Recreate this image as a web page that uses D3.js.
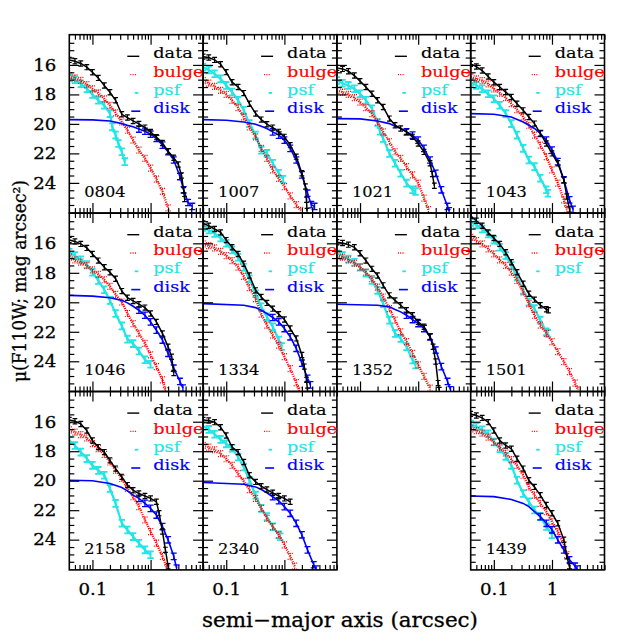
<!DOCTYPE html>
<html><head><meta charset="utf-8">
<script src="https://cdn.jsdelivr.net/npm/d3@7/dist/d3.min.js"></script>
<style>body{margin:0;background:#fff}text{font-family:"DejaVu Serif",serif}</style>
</head><body>
<svg id="chart" width="638" height="638"></svg>
<script>
// ---------------- data (semi-major axis in arcsec, surface brightness in mag/arcsec^2) ----------------
const panelIds = ["0804","1007","1021","1043","1046","1334","1352","1501","2158","2340","1439"];

const dataProfiles = [
 [[0.04,15.66],[0.05,15.75],[0.063,15.9],[0.08,16.15],[0.1,16.5],[0.126,16.88],[0.16,17.4],[0.2,17.85],[0.25,18.4],[0.32,19.35],[0.4,19.57],[0.5,19.8],[0.63,20.0],[0.8,20.25],[1.0,20.55],[1.26,20.9],[1.6,21.3],[2.0,21.85],[2.5,22.3],[3.0,22.75],[3.4,23.5],[3.7,24.5],[3.85,25.1]],
 [[0.04,15.44],[0.05,15.5],[0.063,15.66],[0.08,15.95],[0.1,16.49],[0.126,17.17],[0.16,17.5],[0.2,17.91],[0.25,18.63],[0.32,19.3],[0.4,19.71],[0.5,20.02],[0.63,20.25],[0.8,20.54],[1.0,20.88],[1.26,21.44],[1.6,22.22],[2.0,23.35],[2.3,24.25],[2.4,25.15],[2.45,25.9]],
 [[0.04,16.2],[0.05,16.27],[0.063,16.43],[0.08,16.72],[0.1,17.1],[0.126,17.5],[0.16,17.96],[0.2,18.4],[0.25,18.85],[0.32,19.64],[0.4,20.09],[0.5,20.31],[0.63,20.54],[0.8,20.88],[1.0,21.33],[1.26,21.9],[1.6,22.67],[1.75,23.4],[1.9,24.2]],
 [[0.04,15.93],[0.05,16.11],[0.063,16.38],[0.08,16.79],[0.1,17.17],[0.126,17.5],[0.16,17.84],[0.2,18.18],[0.25,18.63],[0.32,19.08],[0.4,19.53],[0.5,19.98],[0.63,20.65],[0.8,21.33],[1.0,22.0],[1.26,22.67],[1.6,23.8],[1.8,24.92],[2.0,25.8]],
 [[0.04,15.78],[0.05,15.87],[0.063,16.04],[0.08,16.31],[0.1,16.72],[0.126,17.17],[0.16,17.62],[0.2,17.96],[0.25,18.4],[0.32,19.24],[0.4,19.69],[0.5,19.91],[0.63,20.13],[0.8,20.36],[1.0,20.76],[1.26,21.33],[1.6,22.11],[2.0,23.01],[2.3,23.69],[2.5,24.8]],
 [[0.04,14.65],[0.05,14.81],[0.063,15.03],[0.08,15.26],[0.1,15.78],[0.126,16.27],[0.16,16.72],[0.2,17.39],[0.25,18.18],[0.32,19.19],[0.4,19.64],[0.5,20.04],[0.63,20.43],[0.8,20.81],[1.0,21.17],[1.26,21.78],[1.6,22.45],[2.0,23.57],[2.2,24.36],[2.4,25.26],[2.5,26.0]],
 [[0.04,15.93],[0.05,15.98],[0.063,16.09],[0.08,16.27],[0.1,16.67],[0.126,17.17],[0.16,17.73],[0.2,18.18],[0.25,18.85],[0.32,19.53],[0.4,19.87],[0.5,20.2],[0.63,20.54],[0.8,20.88],[1.0,21.33],[1.26,21.66],[1.6,22.34],[1.8,23.01],[2.0,24.02],[2.2,25.48],[2.3,25.95]],
 [[0.04,14.13],[0.05,14.47],[0.063,14.81],[0.08,15.26],[0.1,15.64],[0.126,16.04],[0.16,16.61],[0.2,17.28],[0.25,17.96],[0.32,18.74],[0.4,19.42],[0.5,19.82],[0.63,20.2],[0.8,20.47],[0.87,20.54]],
 [[0.04,15.88],[0.05,15.97],[0.063,16.15],[0.08,16.6],[0.1,17.27],[0.126,17.72],[0.16,18.06],[0.2,18.62],[0.25,19.18],[0.32,19.74],[0.4,20.3],[0.5,20.64],[0.63,20.87],[0.8,21.04],[1.0,21.2],[1.26,21.43],[1.4,22.2],[1.6,23.45],[1.8,24.69],[2.0,25.8]],
 [[0.04,15.88],[0.05,15.92],[0.063,16.03],[0.08,16.37],[0.1,16.93],[0.126,17.72],[0.16,18.06],[0.2,18.73],[0.25,19.63],[0.32,20.08],[0.4,20.37],[0.5,20.6],[0.63,20.82],[0.8,21.04],[1.0,21.2],[1.26,21.43]],
 [[0.04,15.47],[0.05,15.58],[0.063,15.74],[0.08,16.03],[0.1,16.6],[0.126,17.27],[0.16,17.61],[0.2,17.83],[0.25,18.51],[0.32,19.18],[0.4,19.97],[0.5,20.42],[0.63,20.98],[0.8,21.65],[1.0,22.21],[1.26,22.89],[1.6,24.01],[1.8,25.13],[2.0,25.8]]
];

const bulgeProfiles = [
 [[0.04,16.72],[0.05,16.88],[0.063,17.05],[0.08,17.33],[0.1,17.62],[0.126,17.9],[0.16,18.3],[0.2,18.75],[0.25,19.25],[0.32,19.87],[0.4,20.43],[0.5,21.1],[0.63,21.78],[0.8,22.34],[1.0,23.0],[1.26,23.75],[1.6,24.58],[2.0,25.7]],
 [[0.04,17.06],[0.05,17.24],[0.063,17.46],[0.08,17.73],[0.1,18.0],[0.126,18.4],[0.16,18.9],[0.2,19.53],[0.25,20.2],[0.32,20.88],[0.4,21.66],[0.5,22.34],[0.63,23.12],[0.8,23.69],[1.0,24.25],[1.26,24.88],[1.6,25.48],[1.9,25.87]],
 [[0.04,17.73],[0.05,17.84],[0.063,18.0],[0.08,18.22],[0.1,18.52],[0.126,18.9],[0.16,19.3],[0.2,19.87],[0.25,20.54],[0.32,21.21],[0.4,21.89],[0.5,22.34],[0.63,22.9],[0.8,23.46],[1.0,24.02],[1.26,25.03],[1.5,25.82]],
 [[0.04,16.83],[0.05,16.94],[0.063,17.06],[0.08,17.28],[0.1,17.62],[0.126,17.91],[0.16,18.22],[0.2,18.63],[0.25,19.03],[0.32,19.53],[0.4,20.09],[0.5,20.76],[0.63,21.44],[0.8,22.22],[1.0,23.12],[1.26,24.02],[1.6,25.15],[1.8,25.8]],
 [[0.04,16.94],[0.05,17.12],[0.063,17.28],[0.08,17.51],[0.1,17.8],[0.126,18.11],[0.16,18.47],[0.2,18.92],[0.25,19.46],[0.32,19.98],[0.4,20.76],[0.5,21.44],[0.63,22.11],[0.8,22.79],[1.0,23.57],[1.26,24.36],[1.6,25.26],[1.8,26.0]],
 [[0.04,16.04],[0.05,16.16],[0.063,16.31],[0.08,16.54],[0.1,16.83],[0.126,17.17],[0.16,17.62],[0.2,18.24],[0.25,19.0],[0.32,19.75],[0.4,20.8],[0.5,21.55],[0.63,22.22],[0.8,22.9],[1.0,23.68],[1.26,24.5],[1.6,25.45],[1.8,26.0]],
 [[0.04,16.83],[0.05,16.94],[0.063,17.12],[0.08,17.35],[0.1,17.62],[0.126,17.96],[0.16,18.4],[0.2,18.97],[0.25,19.64],[0.32,20.43],[0.4,21.21],[0.5,22.0],[0.63,22.67],[0.8,23.46],[1.0,24.25],[1.26,25.03],[1.6,25.82]],
 [[0.04,15.6],[0.05,15.82],[0.063,16.04],[0.08,16.38],[0.1,16.72],[0.126,17.12],[0.16,17.5],[0.2,17.96],[0.25,18.52],[0.32,19.3],[0.4,20.09],[0.5,20.88],[0.63,21.55],[0.8,22.11],[1.0,22.67],[1.26,23.35],[1.6,24.02],[2.0,24.7],[2.5,25.48],[2.8,25.93]],
 [[0.04,16.55],[0.05,16.71],[0.063,16.87],[0.08,17.09],[0.1,17.49],[0.126,17.83],[0.16,18.21],[0.2,18.73],[0.25,19.29],[0.32,19.85],[0.4,20.53],[0.5,21.09],[0.63,21.76],[0.8,22.66],[1.0,23.45],[1.26,24.24],[1.6,25.13],[1.9,25.92]],
 [[0.04,17.61],[0.05,17.72],[0.063,17.9],[0.08,18.17],[0.1,18.51],[0.126,18.96],[0.16,19.52],[0.2,20.05],[0.25,20.6],[0.32,21.2],[0.4,21.88],[0.5,22.55],[0.63,23.12],[0.8,23.67],[1.0,24.35],[1.26,25.13],[1.5,25.8]],
 [[0.04,16.48],[0.05,16.6],[0.063,16.78],[0.08,17.04],[0.1,17.38],[0.126,17.72],[0.16,18.12],[0.2,18.57],[0.25,18.96],[0.32,19.63],[0.4,20.42],[0.5,20.98],[0.63,21.54],[0.8,22.1],[1.0,22.78],[1.26,23.45],[1.6,24.35],[1.8,25.02],[2.0,25.8]]
];

const psfProfiles = [
 [[0.04,16.88],[0.05,17.01],[0.063,17.28],[0.08,17.62],[0.1,18.0],[0.126,18.4],[0.16,18.74],[0.2,19.3],[0.22,20.2],[0.25,20.76],[0.28,21.33],[0.32,21.89],[0.36,22.56]],
 [[0.04,16.16],[0.05,16.34],[0.063,16.6],[0.08,16.94],[0.1,17.39],[0.126,17.84],[0.16,18.4],[0.2,19.08],[0.25,19.98],[0.32,20.76],[0.4,21.78],[0.5,22.0],[0.63,22.67],[0.8,23.35],[0.95,23.75]],
 [[0.04,17.06],[0.05,17.24],[0.063,17.39],[0.08,17.62],[0.1,17.96],[0.126,18.4],[0.16,18.97],[0.2,19.9],[0.22,20.5],[0.25,20.99],[0.32,22.0],[0.4,22.67],[0.5,23.35],[0.63,24.02],[0.8,24.47],[0.9,24.58]],
 [[0.04,17.17],[0.05,17.39],[0.063,17.62],[0.08,17.96],[0.1,18.29],[0.126,18.74],[0.16,19.3],[0.2,19.98],[0.25,20.76],[0.32,21.66],[0.4,22.45],[0.5,22.9],[0.63,23.69],[0.8,24.47],[0.85,24.7]],
 [[0.04,16.61],[0.05,16.83],[0.063,17.12],[0.08,17.44],[0.1,17.96],[0.126,18.52],[0.16,19.15],[0.2,19.87],[0.25,20.76],[0.32,21.6],[0.4,22.5],[0.5,22.8],[0.63,23.3],[0.8,23.9],[1.0,24.2]],
 [[0.04,14.92],[0.05,15.1],[0.063,15.33],[0.08,15.64],[0.1,16.0],[0.126,16.45],[0.16,16.94],[0.2,17.62],[0.25,18.4],[0.32,19.42],[0.4,20.31],[0.5,20.99],[0.63,21.66],[0.8,22.56],[0.9,23.0]],
 [[0.04,16.72],[0.05,16.83],[0.063,17.06],[0.08,17.28],[0.1,17.62],[0.126,18.02],[0.16,18.52],[0.2,19.19],[0.25,20.09],[0.32,21.21],[0.4,22.11],[0.5,22.45],[0.63,23.01],[0.8,23.91],[0.9,24.25]],
 [[0.04,14.58],[0.05,14.74],[0.063,15.03],[0.08,15.37],[0.1,15.78],[0.126,16.27],[0.16,16.83],[0.2,17.51],[0.25,18.29],[0.32,19.19],[0.4,19.98],[0.5,20.43],[0.63,21.21],[0.8,22.0],[0.85,22.11]],
 [[0.04,17.27],[0.05,17.61],[0.063,18.06],[0.08,18.5],[0.1,18.96],[0.126,19.3],[0.16,19.63],[0.2,20.53],[0.25,21.54],[0.32,22.89],[0.4,23.34],[0.5,23.79],[0.63,24.24],[0.8,24.69],[1.0,25.02]],
 [[0.04,16.3],[0.05,16.52],[0.063,16.85],[0.08,17.2],[0.1,17.5],[0.126,17.8],[0.16,18.39],[0.2,19.07],[0.25,19.97],[0.32,20.98],[0.4,21.88],[0.5,22.44],[0.63,23.12],[0.8,23.67],[0.85,23.8]],
 [[0.04,16.15],[0.05,16.33],[0.063,16.55],[0.08,16.82],[0.1,17.38],[0.126,17.83],[0.16,18.35],[0.2,18.96],[0.25,19.97],[0.32,20.87],[0.4,21.43],[0.5,21.99],[0.63,22.44],[0.8,23.11],[1.0,23.67]]
];

const diskProfiles = [
 [[0.04,19.71],[0.1,19.73],[0.2,19.8],[0.32,19.98],[0.4,20.1],[0.5,20.2],[0.63,20.35],[0.8,20.5],[1.0,20.7],[1.26,20.99],[1.6,21.44],[2.0,21.89],[2.5,22.45],[3.2,23.57],[3.7,24.47],[4.4,25.33],[5.2,25.6]],
 [[0.04,19.71],[0.1,19.75],[0.2,19.87],[0.32,20.02],[0.4,20.16],[0.5,20.31],[0.63,20.54],[0.8,20.76],[1.0,21.1],[1.26,21.66],[1.6,22.45],[2.0,23.46],[2.5,24.7],[2.9,25.48],[3.3,25.6]],
 [[0.04,19.64],[0.1,19.66],[0.2,19.8],[0.32,19.98],[0.4,20.16],[0.5,20.31],[0.63,20.54],[0.8,20.76],[1.0,21.1],[1.26,21.66],[1.6,22.45],[2.0,23.35],[2.5,24.47],[3.2,25.6],[3.4,25.9]],
 [[0.04,19.3],[0.1,19.35],[0.2,19.53],[0.32,19.87],[0.4,20.09],[0.5,20.31],[0.63,20.65],[0.8,21.1],[1.0,21.78],[1.26,22.56],[1.6,23.8],[2.0,25.15],[2.3,25.8]],
 [[0.04,19.53],[0.1,19.58],[0.2,19.69],[0.32,19.87],[0.4,20.04],[0.5,20.27],[0.63,20.54],[0.8,20.88],[1.0,21.33],[1.26,21.89],[1.6,22.56],[2.0,23.46],[2.5,24.47],[3.2,25.37],[3.6,25.82]],
 [[0.04,20.09],[0.2,20.2],[0.32,20.36],[0.4,20.54],[0.5,20.76],[0.63,21.03],[0.8,21.33],[1.0,21.78],[1.26,22.34],[1.6,23.12],[2.0,24.13],[2.5,25.15],[2.8,25.6]],
 [[0.04,20.13],[0.2,20.2],[0.32,20.31],[0.4,20.49],[0.5,20.65],[0.63,20.88],[0.8,21.17],[1.0,21.44],[1.26,21.78],[1.6,22.34],[2.0,23.24],[2.5,24.36],[3.2,25.37],[3.6,25.93]],
 null,
 [[0.04,19.97],[0.1,20.0],[0.2,20.19],[0.32,20.46],[0.4,20.69],[0.5,20.98],[0.63,21.2],[0.8,21.54],[1.0,21.88],[1.26,22.33],[1.6,23.11],[2.0,24.01],[2.5,25.13],[2.8,25.92]],
 [[0.04,20.12],[0.2,20.24],[0.32,20.42],[0.4,20.6],[0.5,20.82],[0.63,21.09],[0.8,21.36],[1.0,21.76],[1.26,22.21],[1.6,22.89],[2.0,23.67],[2.5,24.69],[3.2,25.7],[3.5,26.0]],
 [[0.04,21.04],[0.1,21.08],[0.2,21.27],[0.32,21.54],[0.4,21.76],[0.5,22.1],[0.63,22.44],[0.8,22.89],[1.0,23.33],[1.26,24.01],[1.6,24.69],[2.0,25.36],[2.5,25.8],[2.7,26.0]]
];

const xMajorTicks = [0.1, 1];
const xMinorTicks = [0.05,0.06,0.07,0.08,0.09,0.2,0.3,0.4,0.5,0.6,0.7,0.8,0.9,2,3,4,5,6,7,8];
const yMajorTicks = [16, 18, 20, 22, 24];
const yMinorTicks = [14.5,15,15.5,16.5,17,17.5,18.5,19,19.5,20.5,21,21.5,22.5,23,23.5,24.5,25,25.5];
const legendLabels = ["data","bulge","psf","disk"];
const xTitle = "semi\u2212major axis (arcsec)";
const yTitle = "\u03bc(F110W; mag arcsec\u00b2)";

// ---------------- layout ----------------
const left0 = 69.3, top0 = 34.7, colW = 133.8, rowH = 178.4;
const colors = {data:"#000000", bulge:"#ff0000", psf:"#22e5e5", disk:"#0000ff"};
const svg = d3.select("#chart");
svg.append("rect").attr("width",638).attr("height",638).attr("fill","#fff");

const x = d3.scaleLog().domain([0.04, 8]).range([0, colW]);
const y = d3.scaleLinear().domain([13.95, 26.05]).range([0, rowH]);
const line = d3.line().x(d => x(d[0])).y(d => y(d[1]));

function errorBars(g, pts, color, hh, cw, sw, dash, filterFn){
  const sel = g.append("g").attr("stroke", color).attr("stroke-width", sw).attr("fill","none");
  if (dash) sel.attr("stroke-dasharray", dash);
  pts.filter(filterFn || (() => true)).forEach(d => {
    const px = x(d[0]), py = y(d[1]);
    sel.append("path").attr("d",
      `M${px},${py-hh}V${py+hh}M${px-cw},${py-hh}H${px+cw}M${px-cw},${py+hh}H${px+cw}`);
  });
}

function heavyText(sel, color, w){
  return sel.attr("fill", color).attr("stroke", color).attr("stroke-width", w == null ? 0.2 : w);
}
function widen(sel, factor){
  sel.each(function(){
    const L = this.getComputedTextLength();
    if (L > 0) d3.select(this).attr("textLength", L * factor).attr("lengthAdjust", "spacingAndGlyphs");
  });
  return sel;
}

panelIds.forEach((id, i) => {
  const slot = i < 10 ? i : i + 1;
  const col = slot % 4, row = Math.floor(slot / 4);
  const g = svg.append("g").attr("transform", `translate(${left0 + col*colW},${top0 + row*rowH})`);
  const clipId = "clip" + i;
  g.append("clipPath").attr("id", clipId).append("rect").attr("width", colW).attr("height", rowH);
  const plot = g.append("g").attr("clip-path", `url(#${clipId})`);

  // psf
  const psf = psfProfiles[i];
  plot.append("path").datum(psf).attr("d", line).attr("fill","none")
      .attr("stroke", colors.psf).attr("stroke-width", 2.2);
  errorBars(plot, psf, colors.psf, 3.4, 3.2, 1.8);

  // bulge
  const bulge = bulgeProfiles[i];
  plot.append("path").datum(bulge).attr("d", line).attr("fill","none")
      .attr("stroke", colors.bulge).attr("stroke-width", 2.4).attr("stroke-dasharray","1,1.2");
  errorBars(plot, bulge, colors.bulge, 3, 2.6, 1.2, "1,1.1");

  // disk
  const disk = diskProfiles[i];
  if (disk) {
    plot.append("path").datum(disk).attr("d", line).attr("fill","none")
        .attr("stroke", colors.disk).attr("stroke-width", 1.6);
    errorBars(plot, disk, colors.disk, 3.2, 3, 1.3, null, d => d[0] >= 0.6);
  }

  // data
  const dat = dataProfiles[i];
  plot.append("path").datum(dat).attr("d", line).attr("fill","none")
      .attr("stroke", colors.data).attr("stroke-width", 1.5);
  errorBars(plot, dat, colors.data, 2.6, 2.4, 1.2);

  // axes (inward ticks on all sides)
  const showY = col === 0;
  const showX = row === 2;
  const axG = g.append("g");
  const mk = (ax, tr) => {
    const a = axG.append("g").attr("transform", tr).call(ax);
    a.select(".domain").remove();
    a.selectAll("line").attr("stroke","#000").attr("stroke-width",1.2);
    const t = heavyText(a.selectAll("text").attr("font-family","DejaVu Serif").attr("font-size",16.5), "#000", 0.3);
    widen(t, 1.1);
    return a;
  };
  mk(d3.axisLeft(y).tickValues(yMajorTicks).tickSize(-10).tickPadding(13)
       .tickFormat(showY ? d3.format("d") : () => ""), "translate(0,0)");
  mk(d3.axisLeft(y).tickValues(yMinorTicks).tickSize(-5).tickFormat(() => ""), "translate(0,0)");
  mk(d3.axisRight(y).tickValues(yMajorTicks).tickSize(-10).tickFormat(() => ""), `translate(${colW},0)`);
  mk(d3.axisRight(y).tickValues(yMinorTicks).tickSize(-5).tickFormat(() => ""), `translate(${colW},0)`);
  mk(d3.axisTop(x).tickValues(xMajorTicks).tickSize(-10).tickFormat(() => ""), "translate(0,0)");
  mk(d3.axisTop(x).tickValues(xMinorTicks).tickSize(-5).tickFormat(() => ""), "translate(0,0)");
  mk(d3.axisBottom(x).tickValues(xMajorTicks).tickSize(-10).tickPadding(13)
       .tickFormat(showX ? (d => d === 1 ? "1" : "0.1") : () => ""), `translate(0,${rowH})`);
  mk(d3.axisBottom(x).tickValues(xMinorTicks).tickSize(-5).tickFormat(() => ""), `translate(0,${rowH})`);

  g.append("rect").attr("width", colW).attr("height", rowH)
   .attr("fill","none").attr("stroke","#000").attr("stroke-width",1.6);

  // legend
  const lg = g.append("g").attr("font-size", 15.5);
  const labels = disk ? legendLabels : legendLabels.slice(0, 3);
  labels.forEach((lab, k) => {
    const cy = 18.6 + k * 18.3;
    const c = colors[lab];
    widen(heavyText(lg.append("text").attr("x", 84).attr("y", cy).attr("dy","0.33em"), c, 0.15).text(lab), 1.14);
    const sy = cy + 3;
    if (lab === "data") lg.append("line").attr("x1",58).attr("x2",70).attr("y1",sy).attr("y2",sy).attr("stroke",c).attr("stroke-width",1.4);
    if (lab === "bulge") lg.append("line").attr("x1",61).attr("x2",68).attr("y1",sy).attr("y2",sy).attr("stroke",c).attr("stroke-width",1.4).attr("stroke-dasharray","1,1.3");
    if (lab === "psf") lg.append("line").attr("x1",65.5).attr("x2",69).attr("y1",sy).attr("y2",sy).attr("stroke",c).attr("stroke-width",1.8);
    if (lab === "disk") lg.append("line").attr("x1",62).attr("x2",71).attr("y1",sy).attr("y2",sy).attr("stroke",c).attr("stroke-width",1.6);
  });

  // panel id
  widen(heavyText(g.append("text").attr("x", 15).attr("y", rowH - 16).attr("font-size", 15), "#000", 0.15).text(id), 1.08);
});

// axis titles
heavyText(svg.append("text").attr("x", 340).attr("y", 627).attr("text-anchor","middle")
   .attr("font-size", 20.5).attr("textLength", 276).attr("lengthAdjust","spacingAndGlyphs"), "#000", 0.3).text(xTitle);
heavyText(svg.append("text").attr("transform","translate(26,281) rotate(-90)").attr("text-anchor","middle")
   .attr("font-size", 18).attr("textLength", 202).attr("lengthAdjust","spacingAndGlyphs"), "#000", 0.3).text(yTitle);
</script>
</body></html>
